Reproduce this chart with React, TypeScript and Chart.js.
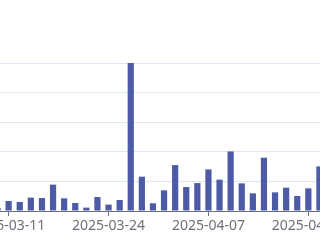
import React, { useEffect, useRef } from "react";
import { Chart, registerables } from "chart.js";

Chart.register(...registerables);

const dates: string[] = [
  "2025-03-10", "2025-03-11", "2025-03-12", "2025-03-13", "2025-03-14",
  "2025-03-17", "2025-03-18", "2025-03-19", "2025-03-20", "2025-03-21",
  "2025-03-24", "2025-03-25", "2025-03-26", "2025-03-27", "2025-03-28",
  "2025-03-31", "2025-04-01", "2025-04-02", "2025-04-03", "2025-04-07",
  "2025-04-08", "2025-04-09", "2025-04-10", "2025-04-11", "2025-04-14",
  "2025-04-15", "2025-04-16", "2025-04-17", "2025-04-18", "2025-04-21",
];

const volumes: number[] = [
  202, 674, 607, 903, 876, 1780, 856, 539, 229, 944,
  431, 741, 10000, 2319, 519, 1395, 3101, 1618, 1887, 2811,
  2117, 4024, 1867, 1193, 3600, 1261, 1577, 1011, 1530, 3013,
];

const shownLabels: string[] = ["2025-03-11", "2025-03-24", "2025-04-07", "2025-04-18"];

const yMax = 10000;
const yStep = 2000;

export default function App() {
  const ref = useRef<HTMLCanvasElement | null>(null);

  useEffect(() => {
    if (!ref.current) return;
    const chart = new Chart(ref.current, {
      type: "bar",
      data: {
        labels: dates,
        datasets: [
          {
            data: volumes,
            backgroundColor: "#4D5BA6",
            borderWidth: 0,
            barPercentage: 0.56,
            categoryPercentage: 1,
          },
        ],
      },
      options: {
        animation: false,
        responsive: false,
        devicePixelRatio: 1,
        layout: { padding: { top: 63, left: 0, right: 0, bottom: 0 } },
        plugins: { legend: { display: false }, tooltip: { enabled: false } },
        scales: {
          x: {
            type: "category",
            offset: true,
            afterFit: (s: any) => {
              s.height = 29;
            },
            grid: {
              display: true,
              drawOnChartArea: false,
              offset: false,
              tickLength: 5,
              color: "rgba(0,0,0,0)",
              tickColor: (ctx: any) =>
                shownLabels.includes(dates[ctx.index]) ? "#6E7079" : "rgba(0,0,0,0)",
            },
            border: { display: true, color: "#6E7079", width: 1 },
            ticks: {
              autoSkip: false,
              maxRotation: 0,
              minRotation: 0,
              padding: 2,
              color: "#6E7079",
              font: { family: "'Noto Sans', sans-serif", size: 14 },
              callback: (_v: any, i: number) =>
                shownLabels.includes(dates[i]) ? dates[i] : "",
            },
          },
          y: {
            min: 0,
            max: yMax,
            afterFit: (s: any) => {
              s.width = 0;
            },
            ticks: { display: false, stepSize: yStep },
            border: { display: false },
            grid: { color: "#E0E6F1", drawTicks: false },
          },
        },
      },
    });
    return () => chart.destroy();
  }, []);

  return (
    <div
      style={{
        position: "fixed",
        left: 0,
        top: 0,
        width: 320,
        height: 240,
        overflow: "hidden",
        background: "#ffffff",
      }}
    >
      <canvas
        ref={ref}
        width={333}
        height={240}
        style={{ position: "absolute", left: -8, top: 0, width: 333, height: 240 }}
      />
    </div>
  );
}
